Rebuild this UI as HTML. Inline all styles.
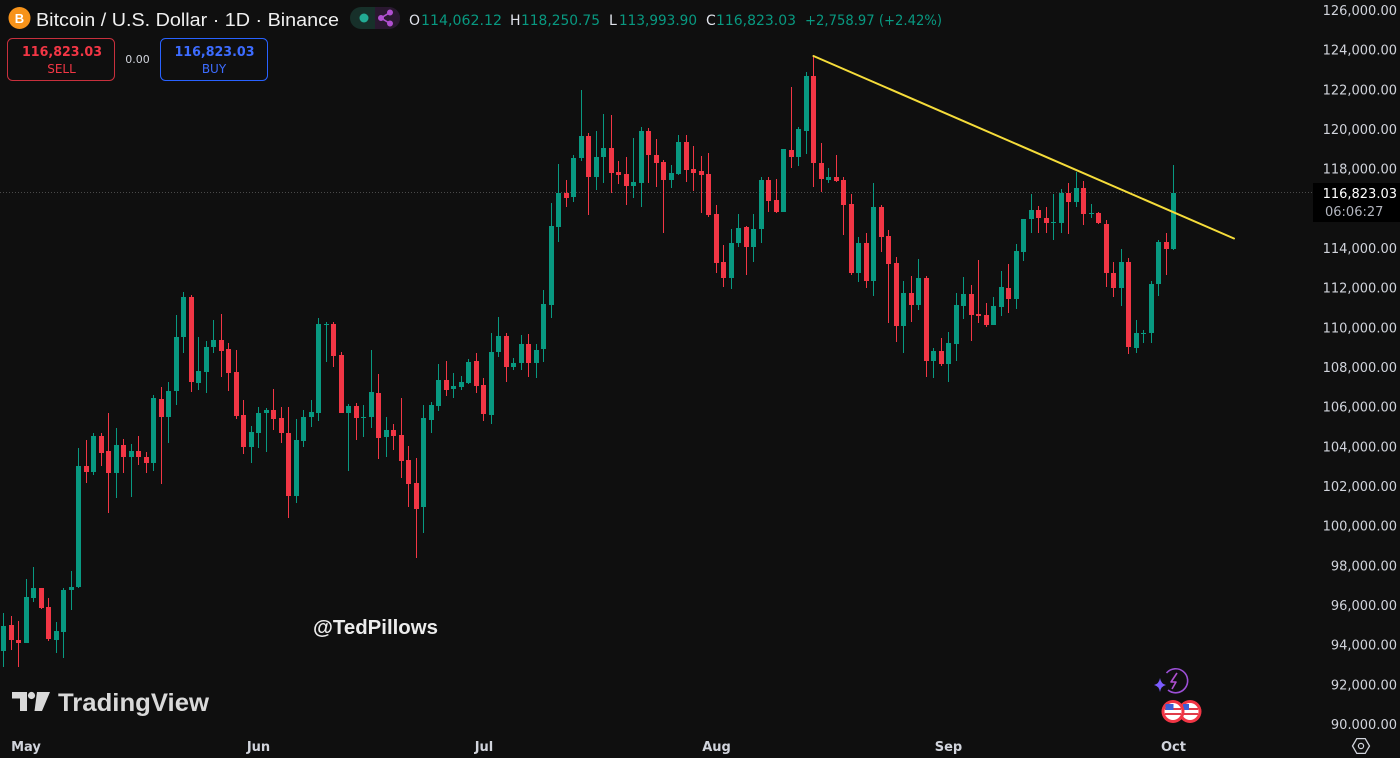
<!DOCTYPE html>
<html>
<head>
<meta charset="utf-8">
<style>
  html,body{margin:0;padding:0;background:#0f0f0f;}
  body{width:1400px;height:758px;overflow:hidden;}
  svg{display:block;}
  .ax{font-family:"DejaVu Sans",sans-serif;font-size:13px;fill:#d1d4dc;}
  .mo{font-family:"DejaVu Sans",sans-serif;font-size:13px;font-weight:bold;fill:#d1d4dc;}
</style>
</head>
<body>
<svg id="s" width="1400" height="758" viewBox="0 0 1400 758" xmlns="http://www.w3.org/2000/svg">
  <defs>
    <clipPath id="pane"><rect x="0" y="0" width="1400" height="729"/></clipPath>
  </defs>
  <rect x="0" y="0" width="1400" height="758" fill="#0f0f0f"/>

  <!-- current price dotted line -->
  <line x1="0" y1="192.5" x2="1313" y2="192.5" stroke="#4a4a4a" stroke-width="1" stroke-dasharray="1 2"/>

  <!-- candles -->
  <g id="c"></g>

  <!-- trend line -->
  <line x1="813.5" y1="56" x2="1234" y2="238.5" stroke="#f5dc3a" stroke-width="2" stroke-linecap="round"/>

  <!-- price axis labels -->
  <g clip-path="url(#pane)" text-anchor="end">
    <text class="ax" x="1397" y="15">126,000.00</text>
    <text class="ax" x="1397" y="54.7">124,000.00</text>
    <text class="ax" x="1397" y="94.3">122,000.00</text>
    <text class="ax" x="1397" y="134">120,000.00</text>
    <text class="ax" x="1397" y="173.7">118,000.00</text>
    <text class="ax" x="1397" y="253">114,000.00</text>
    <text class="ax" x="1397" y="292.7">112,000.00</text>
    <text class="ax" x="1397" y="332.3">110,000.00</text>
    <text class="ax" x="1397" y="372">108,000.00</text>
    <text class="ax" x="1397" y="411.7">106,000.00</text>
    <text class="ax" x="1397" y="451.3">104,000.00</text>
    <text class="ax" x="1397" y="491">102,000.00</text>
    <text class="ax" x="1397" y="530.7">100,000.00</text>
    <text class="ax" x="1397" y="570.3">98,000.00</text>
    <text class="ax" x="1397" y="610">96,000.00</text>
    <text class="ax" x="1397" y="649.7">94,000.00</text>
    <text class="ax" x="1397" y="689.3">92,000.00</text>
    <text class="ax" x="1397" y="729">90,000.00</text>
  </g>

  <!-- current price label -->
  <rect x="1313" y="183" width="87" height="39" fill="#000"/>
  <text x="1397" y="198" text-anchor="end" style="font-family:'DejaVu Sans',sans-serif;font-size:13px;fill:#ffffff;">116,823.03</text>
  <text x="1325" y="216" style="font-family:'DejaVu Sans',sans-serif;font-size:13px;fill:#b2b5be;">06:06:27</text>

  <!-- time axis -->
  <g text-anchor="middle">
    <text class="mo" x="26" y="751">May</text>
    <text class="mo" x="258.5" y="751">Jun</text>
    <text class="mo" x="484" y="751">Jul</text>
    <text class="mo" x="716.5" y="751">Aug</text>
    <text class="mo" x="948.5" y="751">Sep</text>
    <text class="mo" x="1173.5" y="751">Oct</text>
  </g>
  <!-- settings hex -->
  <polygon points="1352.5,746 1356.8,738.6 1365.2,738.6 1369.5,746 1365.2,753.4 1356.8,753.4" fill="none" stroke="#d1d4dc" stroke-width="1.3"/>
  <circle cx="1361" cy="746" r="2.6" fill="none" stroke="#d1d4dc" stroke-width="1.2"/>

  <!-- header -->
  <circle cx="19.5" cy="18" r="11" fill="#f7931a"/>
  <text x="19.5" y="23" text-anchor="middle" style="font-family:'Liberation Sans',sans-serif;font-size:13px;font-weight:bold;fill:#fff;">B</text>
  <text x="36" y="26" textLength="303" lengthAdjust="spacingAndGlyphs" style="font-family:'Liberation Sans',sans-serif;font-size:18px;fill:#f0f0f0;">Bitcoin / U.S. Dollar · 1D · Binance</text>

  <!-- pill -->
  <rect x="350" y="7" width="50" height="22" rx="11" fill="#17302a"/>
  <path d="M375,7 H389 A11,11 0 0 1 389,29 H375 Z" fill="#2a1830"/>
  <circle cx="364" cy="18" r="4.5" fill="#22ab94"/>
  <g stroke="#b04fd0" stroke-width="1.6" fill="#b04fd0">
    <line x1="381" y1="18" x2="390" y2="12.5"/>
    <line x1="381" y1="18" x2="390" y2="23.5"/>
    <circle cx="381" cy="18" r="2.2"/>
    <circle cx="390" cy="12.5" r="2.2"/>
    <circle cx="390" cy="23.5" r="2.2"/>
  </g>

  <!-- OHLC -->
  <g style="font-family:'DejaVu Sans',sans-serif;font-size:14px;">
    <text x="409" y="25" fill="#e0e3eb">O</text>
    <text x="421" y="25" fill="#089981" textLength="81" lengthAdjust="spacingAndGlyphs">114,062.12</text>
    <text x="510" y="25" fill="#e0e3eb">H</text>
    <text x="521" y="25" fill="#089981" textLength="79" lengthAdjust="spacingAndGlyphs">118,250.75</text>
    <text x="609" y="25" fill="#e0e3eb">L</text>
    <text x="619" y="25" fill="#089981" textLength="78" lengthAdjust="spacingAndGlyphs">113,993.90</text>
    <text x="706" y="25" fill="#e0e3eb">C</text>
    <text x="716" y="25" fill="#089981" textLength="80" lengthAdjust="spacingAndGlyphs">116,823.03</text>
    <text x="805" y="25" fill="#089981" textLength="137" lengthAdjust="spacingAndGlyphs">+2,758.97 (+2.42%)</text>
  </g>

  <!-- sell / buy -->
  <rect x="7.5" y="38.5" width="107" height="42" rx="5" fill="#0f0f0f" stroke="#c8303d" stroke-width="1"/>
  <text x="62" y="56" text-anchor="middle" textLength="80" lengthAdjust="spacingAndGlyphs" style="font-family:'DejaVu Sans',sans-serif;font-size:13px;font-weight:bold;fill:#f23645;">116,823.03</text>
  <text x="61.5" y="73" text-anchor="middle" style="font-family:'DejaVu Sans',sans-serif;font-size:12px;fill:#f23645;">SELL</text>
  <text x="137.5" y="63" text-anchor="middle" style="font-family:'DejaVu Sans',sans-serif;font-size:11px;fill:#d1d4dc;">0.00</text>
  <rect x="160.5" y="38.5" width="107" height="42" rx="5" fill="#0f0f0f" stroke="#2962ff" stroke-width="1"/>
  <text x="214.5" y="56" text-anchor="middle" textLength="80" lengthAdjust="spacingAndGlyphs" style="font-family:'DejaVu Sans',sans-serif;font-size:13px;font-weight:bold;fill:#3d6cff;">116,823.03</text>
  <text x="214" y="73" text-anchor="middle" style="font-family:'DejaVu Sans',sans-serif;font-size:12px;fill:#3d6cff;">BUY</text>

  <!-- watermark -->
  <text x="313" y="634" textLength="125" lengthAdjust="spacingAndGlyphs" style="font-family:'Liberation Sans',sans-serif;font-size:20px;font-weight:bold;fill:#ececec;">@TedPillows</text>

  <!-- TradingView logo -->
  <g fill="#d9d9d9">
    <path d="M12,692 H27 V711 H20 V698.5 H12 Z"/>
    <circle cx="31.5" cy="695.5" r="3.6"/>
    <path d="M37,692 H50 L42,711 H34.5 Z"/>
  </g>
  <text x="58" y="711" textLength="151" lengthAdjust="spacingAndGlyphs" style="font-family:'Liberation Sans',sans-serif;font-size:25px;font-weight:bold;fill:#d9d9d9;">TradingView</text>

  <!-- event icons -->
  <path d="M1166.5,673 A12,12 0 1 1 1168,690" fill="none" stroke="#9c4fd6" stroke-width="1.6"/>
  <path d="M1177,673 L1171,682 H1176 L1172,689" fill="none" stroke="#b04fd0" stroke-width="1.6" stroke-linejoin="round"/>
  <path d="M1160,678 Q1161,684 1166,685 Q1161,686 1160,692 Q1159,686 1154,685 Q1159,684 1160,678 Z" fill="#7b5cff"/>
  <g>
    <circle cx="1190" cy="711.5" r="11.5" fill="#f23645"/>
    <circle cx="1190" cy="711.5" r="8.5" fill="#fff"/>
    <rect x="1182" y="708" width="16" height="2" fill="#e03c4a"/>
    <rect x="1182" y="713" width="16" height="2" fill="#e03c4a"/>
    <rect x="1183" y="704" width="6" height="6" fill="#3c5fd6"/>
    <circle cx="1173" cy="711.5" r="11.5" fill="#f23645"/>
    <circle cx="1173" cy="711.5" r="8.5" fill="#fff"/>
    <rect x="1165" y="708" width="16" height="2" fill="#e03c4a"/>
    <rect x="1165" y="713" width="16" height="2" fill="#e03c4a"/>
    <rect x="1165.5" y="704" width="8" height="6" fill="#3c5fd6"/>
  </g>
</svg>
<script>
var D=[
['g',626,651,613,667],['r',625,640,616,650],['r',640,643,621,667],['g',597,643,579,643],['g',588,598,567,602],
['r',588,608,588,609],['r',607,639,598,641],['g',631,640,622,653],['g',590,632,588,658],['g',587,590,571,610],
['g',466,587,448,588],['r',466,472,440,483],['g',436,472,433,475],['r',436,453,433,466],['r',451,473,413,513],
['g',445,473,428,498],['r',445,457,439,473],['g',451,457,444,497],['r',451,457,436,465],['r',457,463,452,473],
['g',398,463,395,471],['r',399,417,387,484],['g',391,417,382,443],['g',337,391,315,405],['g',297,337,292,353],
['r',297,382,295,392],['g',371,383,337,390],['g',347,372,341,393],['g',340,347,320,353],['r',340,351,314,377],
['r',349,373,343,391],['r',372,416,350,419],['r',415,447,400,454],['g',432,447,426,463],['g',413,433,407,448],
['g',410,413,408,452],['r',410,419,389,430],['r',418,433,407,443],['r',433,496,407,518],['g',440,496,419,503],
['g',417,441,410,447],['g',412,417,400,427],['g',324,413,318,421],['g',324,325,322,362],['r',324,356,322,367],
['r',355,413,352,413],['g',406,413,404,471],['r',406,418,403,440],['g',417,418,405,437],['g',392,417,350,428],
['r',393,438,374,459],['g',430,437,417,457],['r',430,436,424,450],['r',435,461,398,478],['r',460,484,446,507],
['r',483,509,458,558],['g',418,507,405,533],['g',405,420,402,433],['g',380,406,364,411],['r',380,390,361,396],
['g',386,389,373,398],['g',382,387,376,390],['g',362,383,359,384],['r',361,386,353,393],['r',385,414,378,421],
['g',352,415,333,424],['g',336,352,317,357],['r',336,367,333,382],['g',363,367,358,370],['g',344,363,335,370],
['r',344,363,334,377],['g',350,363,344,378],['g',304,349,290,362],['g',226,305,203,318],['g',193,227,164,242],
['r',193,198,180,207],['g',158,197,155,202],['g',136,158,90,161],['r',136,177,133,215],['g',157,177,131,190],
['g',148,157,114,183],['r',148,173,115,193],['r',172,175,161,184],['r',174,186,157,205],['g',182,186,138,198],
['g',131,183,127,207],['r',131,155,128,183],['r',155,163,139,187],['r',162,180,160,233],['g',173,180,165,188],
['g',142,174,135,175],['r',142,170,135,182],['r',169,173,146,191],['r',171,175,156,213],['r',174,215,153,217],
['r',214,263,205,273],['r',262,278,245,287],['g',243,278,229,289],['g',228,243,214,247],['r',227,247,226,275],
['g',229,247,214,262],['g',180,229,177,243],['r',180,201,177,212],['r',200,212,179,213],['g',149,212,149,212],
['r',150,157,87,168],['g',129,157,127,166],['g',76,131,72,154],['r',76,163,56,187],['r',163,179,143,192],
['g',177,180,168,183],['r',177,181,155,182],['r',180,205,177,235],['r',204,273,194,275],['g',243,273,237,282],
['r',243,281,233,288],['g',207,281,183,296],['r',207,237,205,252],['r',236,264,230,323],['r',263,326,257,342],
['g',293,326,281,353],['r',293,305,276,322],['g',278,305,259,310],['r',278,361,276,377],['g',351,361,348,378],
['r',351,364,338,366],['g',343,364,332,382],['g',305,344,293,361],['g',294,306,277,319],['r',294,315,285,341],
['r',314,316,260,323],['r',315,325,303,327],['g',306,325,297,325],['g',287,307,271,316],['r',288,299,264,313],
['g',251,299,244,309],['g',219,252,219,261],['g',210,219,194,233],['r',210,218,206,233],['r',218,223,207,233],
['g',222,223,194,240],['g',193,223,189,233],['r',193,202,183,234],['g',188,202,172,207],['r',188,214,181,225],
['g',213,214,204,218],['r',213,223,212,224],['r',224,273,220,287],['r',273,288,262,297],['g',262,288,249,306],
['r',262,347,258,354],['g',333,348,320,353],['g',333,334,330,343],['g',284,333,281,343],['g',242,284,240,296],
['r',242,249,233,275],['g',193,249,165,250]
];
(function(){
  var ns="http://www.w3.org/2000/svg",g=document.getElementById('c');
  for(var i=0;i<D.length;i++){
    var d=D[i],col=d[0]=='g'?'#089981':'#f23645';
    var cx=3.5+7.5*i,bx=Math.round(cx-2.5);
    var w=document.createElementNS(ns,'rect');
    w.setAttribute('x',bx+2);w.setAttribute('width',1);
    w.setAttribute('y',d[3]);w.setAttribute('height',Math.max(1,d[4]-d[3]));
    w.setAttribute('fill',col);g.appendChild(w);
    var b=document.createElementNS(ns,'rect');
    b.setAttribute('x',bx);b.setAttribute('width',5);
    b.setAttribute('y',d[1]);b.setAttribute('height',Math.max(1,d[2]-d[1]));
    b.setAttribute('fill',col);g.appendChild(b);
  }
})();
</script>
</body>
</html>
